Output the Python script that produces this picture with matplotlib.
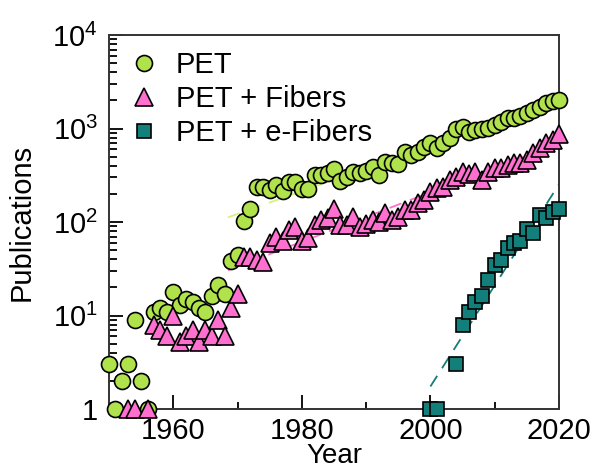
import numpy as np
import matplotlib
matplotlib.use("Agg")
import matplotlib.pyplot as plt
from matplotlib.ticker import FixedLocator, FuncFormatter

plt.rcParams['font.family'] = ['Liberation Sans', 'DejaVu Sans']
plt.rcParams['mathtext.fontset'] = 'custom'
plt.rcParams['mathtext.rm'] = 'Liberation Sans'

# publications per year
pet_years = list(range(1950, 2021))
pet_counts = [3, 1, 2, 3, 9, 2, 1, 11, 12, 11,
              18, 13, 15, 14, 12, 11, 16, 21, 17, 38,
              44, 102, 138, 236, 236, 220, 250, 215, 268, 268,
              225, 225, 318, 318, 335, 370, 275, 300, 340, 335,
              350, 385, 318, 437, 430, 420, 560, 520, 560, 635,
              700, 620, 700, 790, 1000, 1030, 920, 960, 1000, 1020,
              1090, 1180, 1290, 1290, 1380, 1470, 1580, 1700, 1870, 1950,
              2000]

fib_years = [1953, 1954, 1956] + list(range(1957, 2021))
fib_counts = [1, 1, 1,
              8, 7, 6, 10, 5.2, 6, 7, 5.2, 7, 6, 9, 6, 12,
              17, 42, 42, 39, 37, 60, 69, 62, 82, 89,
              62, 67, 93, 105, 110, 138, 93, 93, 113, 88,
              95, 105, 100, 125, 105, 113, 134, 134, 160, 172,
              208, 230, 235, 280, 300, 340, 330, 340, 280, 340,
              380, 380, 410, 430, 430, 460, 550, 620, 700, 760, 880]

efib_years = [2000, 2001, 2004, 2005, 2006, 2007, 2008, 2009, 2010,
              2011, 2012, 2013, 2014, 2015, 2016, 2017, 2018, 2019, 2020]
efib_counts = [1, 1, 3, 8, 11, 14, 16, 24, 35,
               39, 53, 60, 62, 84, 76, 118, 110, 128, 138]

green = '#b0e24c'
pink = '#ff6fd0'
teal = '#137f7a'


def exp_fit(years, counts, y0, y1):
    years = np.array(years, dtype=float)
    counts = np.array(counts, dtype=float)
    m = (years >= y0) & (years <= y1)
    p = np.polyfit(years[m], np.log10(counts[m]), 1)
    return p


fig = plt.figure(figsize=(5.94, 4.68), dpi=100)
ax = fig.add_axes([0.1835, 0.126, 0.7575, 0.799])

# fitted trends (dashed)
dash = (0, (7, 5))
xs = np.array([1968.5, 2020])
p = exp_fit(pet_years, pet_counts, 1969, 2020)
ax.plot(xs, 10 ** np.polyval(p, xs), ls=dash, color='#d8f27a', lw=1.3, zorder=1)
p = exp_fit(fib_years, fib_counts, 1969, 2020)
ax.plot(xs, 10 ** np.polyval(p, xs), ls=dash, color=pink, lw=1.3, zorder=1)
xs2 = np.array([2000, 2020])
p = exp_fit(efib_years, efib_counts, 2000, 2020)
ax.plot(xs2, 10 ** np.polyval(p, xs2), ls=dash, color=teal, lw=1.3, zorder=1)

ax.plot(pet_years, pet_counts, 'o', ms=11.5, mfc=green, mec='black', mew=1.2,
        label='PET', clip_on=False, zorder=3)
ax.plot(fib_years, fib_counts, '^', ms=12.5, mfc=pink, mec='black', mew=1.2,
        label='PET + Fibers', clip_on=False, zorder=4)
ax.plot(efib_years, efib_counts, 's', ms=10.5, mfc=teal, mec='black', mew=1.2,
        label='PET + e-Fibers', clip_on=False, zorder=5)

ax.set_yscale('log')
ax.set_xlim(1950, 2020)
ax.set_ylim(1, 1e4)

ax.xaxis.set_major_locator(FixedLocator([1960, 1980, 2000, 2020]))
ax.xaxis.set_minor_locator(FixedLocator([1970, 1990, 2010]))


def yfmt(v, pos):
    if v == 1:
        return '1'
    return r'$\mathregular{10^{%d}}$' % int(round(np.log10(v)))


ax.yaxis.set_major_formatter(FuncFormatter(yfmt))
ax.tick_params(which='both', direction='in', top=False, right=False,
               labelsize=21, width=1.3)
ax.tick_params(which='major', length=10, pad=8)
ax.tick_params(axis='x', which='major', pad=6)
ax.tick_params(which='minor', length=5)
ax.tick_params(axis='y', which='minor', length=6)
for s in ax.spines.values():
    s.set_linewidth(1.4)
    s.set_color('#333333')

ax.set_xlabel('Year', fontsize=20, labelpad=-2)
ax.set_ylabel('Publications', fontsize=21, labelpad=12)

leg = ax.legend(loc='upper left', frameon=False, fontsize=21,
                handletextpad=0.45, borderaxespad=0.3, labelspacing=0.2,
                handlelength=1.3, borderpad=0.25)

fig.savefig('out.png', dpi=100)
